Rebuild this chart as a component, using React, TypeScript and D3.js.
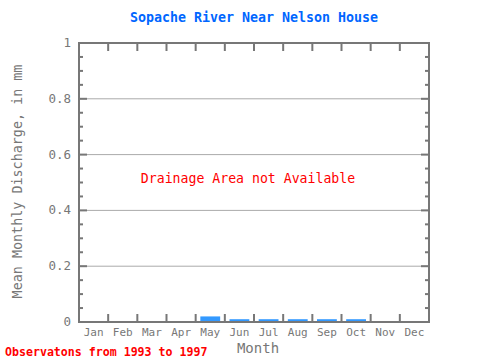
import React from "react";
import * as d3 from "d3";

const months = ["Jan","Feb","Mar","Apr","May","Jun","Jul","Aug","Sep","Oct","Nov","Dec"];
const values = [0, 0, 0, 0, 0.02, 0.01, 0.01, 0.01, 0.01, 0.01, 0, 0];
const yTicks = [0, 0.2, 0.4, 0.6, 0.8, 1];
const yTickLabels = ["0", "0.2", "0.4", "0.6", "0.8", "1"];

export default function App() {
  const W = 480, H = 360;
  const left = 79, right = 429, top = 43, bottom = 322;
  const x = d3.scaleBand<string>().domain(months).range([left, right]).paddingInner(0).paddingOuter(0);
  const y = d3.scaleLinear().domain([0, 1]).range([bottom, top]);
  const minor = d3.range(0, 1.0001, 0.05);
  const font = "'DejaVu Sans Mono', monospace";
  const gray = "#777777";
  const bw = x.bandwidth() * 0.68;
  return (
    <svg width={W} height={H} style={{ position: "absolute", left: 0, top: 0 }} fontFamily={font}>
      <rect x={0} y={0} width={W} height={H} fill="white" />
      <text x={254} y={22} textAnchor="middle" fill="#0066ff" fontSize={13.3} fontWeight="bold">Sopache River Near Nelson House</text>
      {yTicks.filter(t => t > 0 && t < 1).map(t => (
        <line key={"g" + t} x1={left} x2={right} y1={y(t)} y2={y(t)} stroke="#aaaaaa" strokeWidth={1} />
      ))}
      {values.map((v, i) => v > 0 ? (
        <rect key={"b" + i} x={x(months[i])! + (x.bandwidth() - bw) / 2} y={y(v)} width={bw} height={bottom - y(v)} fill="#3399ff" />
      ) : null)}
      {minor.map(t => {
        const major = Math.abs((t * 10) % 2) < 1e-6 || Math.abs((t * 10) % 2 - 2) < 1e-6;
        const len = major ? 8 : 4;
        return (
          <g key={"m" + t}>
            <line x1={left} x2={left + len} y1={y(t)} y2={y(t)} stroke={gray} strokeWidth={2} />
            <line x1={right - len} x2={right} y1={y(t)} y2={y(t)} stroke={gray} strokeWidth={2} />
          </g>
        );
      })}
      {months.slice(1).map(m => (
        <g key={"t" + m}>
          <line x1={x(m)!} x2={x(m)!} y1={top} y2={top + 8} stroke={gray} strokeWidth={2} />
          <line x1={x(m)!} x2={x(m)!} y1={bottom} y2={bottom - 8} stroke={gray} strokeWidth={2} />
        </g>
      ))}
      <rect x={left} y={top} width={right - left} height={bottom - top} fill="none" stroke={gray} strokeWidth={2} />
      {yTicks.map((t, i) => (
        <text key={"yl" + t} x={71} y={y(t) + 4} textAnchor="end" fill={gray} fontSize={12.5}>{yTickLabels[i]}</text>
      ))}
      {months.map(m => (
        <text key={"xl" + m} x={x(m)! + x.bandwidth() / 2} y={336} textAnchor="middle" fill={gray} fontSize={11}>{m}</text>
      ))}
      <text x={258} y={353} textAnchor="middle" fill={gray} fontSize={14}>Month</text>
      <text transform={`translate(22,${(top + bottom) / 2 - 1}) rotate(-90)`} textAnchor="middle" fill={gray} fontSize={13.4}>Mean Monthly Discharge, in mm</text>
      <text x={248} y={183} textAnchor="middle" fill="#ff0000" fontSize={13.2}>Drainage Area not Available</text>
      <text x={5} y={356} fill="#ff0000" fontSize={11.6} fontWeight="bold">Observatons from 1993 to 1997</text>
    </svg>
  );
}
